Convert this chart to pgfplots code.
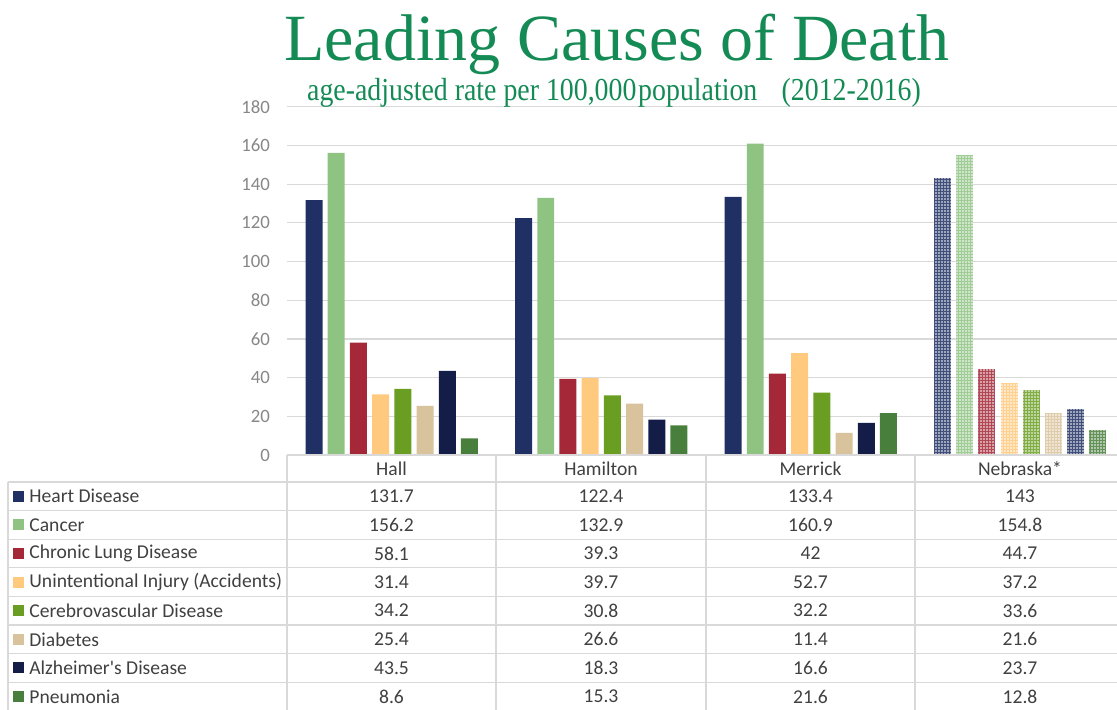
\documentclass[border=0pt]{standalone}
\usepackage{graphicx}
\usepackage{fontspec}
\setmainfont{Carlito}
\newfontfamily\titlefont{Liberation Serif}
\usepackage{pgfplots}
\pgfplotsset{compat=1.18}
\usetikzlibrary{patterns.meta}
\definecolor{heart}{HTML}{203064}
\definecolor{cancer}{HTML}{8FC382}
\definecolor{lung}{HTML}{A52838}
\definecolor{accid}{HTML}{FFC97E}
\definecolor{cereb}{HTML}{6A9E23}
\definecolor{diab}{HTML}{D9C39C}
\definecolor{alz}{HTML}{141D48}
\definecolor{pneu}{HTML}{497F3C}
\definecolor{titlec}{HTML}{148A55}
\definecolor{gridc}{HTML}{D9D9D9}
\definecolor{tickc}{HTML}{878787}
\definecolor{tabc}{HTML}{404040}
\tikzset{
  solid bar/.style={ybar, bar width=0.081, fill=#1, draw=none},
  neb bar/.style={ybar, bar width=0.081, fill=#1!85!white, draw=none,
    postaction={pattern={Dots[distance=1.5pt,radius=0.42pt]}, pattern color=white}},
}
\begin{document}
\begin{tikzpicture}
\begin{axis}[
  at={(0,0)}, anchor=south west,
  scale only axis, width=419pt, height=174.15pt,
  xmin=0.5, xmax=4.5, ymin=0, ymax=180,
  xtick=\empty, ytick={0,20,...,180},
  axis line style={draw=none}, major tick length=0pt,
  ymajorgrids, grid style={color=gridc, line width=0.6pt},
  yticklabel style={font=\fontsize{9.4}{11}\selectfont, text=tickc, xshift=-5pt},
  /pgf/number format/assume math mode=true,
  clip=false,
]
% Heart Disease
\addplot[solid bar=heart, bar shift=-0.371] coordinates {(1,131.7) (2,122.4) (3,133.4)};
\addplot[neb bar=heart, bar shift=-0.371] coordinates {(4,143)};
% Cancer
\addplot[solid bar=cancer, bar shift=-0.265] coordinates {(1,156.2) (2,132.9) (3,160.9)};
\addplot[neb bar=cancer, bar shift=-0.265] coordinates {(4,154.8)};
% Chronic Lung Disease
\addplot[solid bar=lung, bar shift=-0.159] coordinates {(1,58.1) (2,39.3) (3,42)};
\addplot[neb bar=lung, bar shift=-0.159] coordinates {(4,44.7)};
% Unintentional Injury
\addplot[solid bar=accid, bar shift=-0.053] coordinates {(1,31.4) (2,39.7) (3,52.7)};
\addplot[neb bar=accid, bar shift=-0.053] coordinates {(4,37.2)};
% Cerebrovascular Disease
\addplot[solid bar=cereb, bar shift=0.053] coordinates {(1,34.2) (2,30.8) (3,32.2)};
\addplot[neb bar=cereb, bar shift=0.053] coordinates {(4,33.6)};
% Diabetes
\addplot[solid bar=diab, bar shift=0.159] coordinates {(1,25.4) (2,26.6) (3,11.4)};
\addplot[neb bar=diab, bar shift=0.159] coordinates {(4,21.6)};
% Alzheimer's Disease
\addplot[solid bar=alz, bar shift=0.265] coordinates {(1,43.5) (2,18.3) (3,16.6)};
\addplot[neb bar=heart, bar shift=0.265] coordinates {(4,23.7)};
% Pneumonia
\addplot[solid bar=pneu, bar shift=0.371] coordinates {(1,8.6) (2,15.3) (3,21.6)};
\addplot[neb bar=pneu, bar shift=0.371] coordinates {(4,12.8)};
\end{axis}
% pixel frame of the reference: (287,455) is the axis origin
\begin{scope}[x=0.5pt, y=-0.5pt, shift={(-287,-455)}]
  \node[font=\titlefont\fontsize{33}{36}\selectfont, text=titlec, anchor=base]
    at (617,60) {Leading Causes of Death};
  \node[font=\titlefont\fontsize{16}{18}\selectfont, text=titlec, anchor=base]
    at (614,100) {\scalebox{0.87}[1]{age-adjusted rate per 100,000\hspace{1pt}population\hspace{14pt}(2012-2016)}};
  % table grid
  \begin{scope}[draw=gridc, line width=0.6pt]
    \draw (287,455) -- (1130,455);
    \foreach \y in {482,510.6,539.2,567.8,596.4,625,653.6,682.2}
      \draw (8,\y) -- (1130,\y);
    \draw (8,482) -- (8,720);
    \foreach \x in {287,496,706,915}
      \draw (\x,455) -- (\x,720);
  \end{scope}
  \begin{scope}[font=\fontsize{9.8}{11}\selectfont, text=tabc]
    \foreach \x/\name in {391.5/Hall, 601/Hamilton, 810.5/Merrick, 1020/Nebraska*}
      \node at (\x,468.5) {\name};
    \foreach \lab/\col/\a/\b/\c/\d [count=\i] in {
        Heart Disease/heart/131.7/122.4/133.4/143,
        Cancer/cancer/156.2/132.9/160.9/154.8,
        Chronic Lung Disease/lung/58.1/39.3/42/44.7,
        Unintentional Injury (Accidents)/accid/31.4/39.7/52.7/37.2,
        Cerebrovascular Disease/cereb/34.2/30.8/32.2/33.6,
        Diabetes/diab/25.4/26.6/11.4/21.6,
        Alzheimer\textquotesingle s Disease/alz/43.5/18.3/16.6/23.7,
        Pneumonia/pneu/8.6/15.3/21.6/12.8} {
      \pgfmathsetmacro{\yc}{482+28.6*(\i-0.5)}
      \fill[\col] (13,\yc-5.5) rectangle (24,\yc+5.5);
      \node[anchor=west, inner sep=0pt] at (29,\yc) {\lab};
      \node at (391.5,\yc) {\a};
      \node at (601,\yc) {\b};
      \node at (810.5,\yc) {\c};
      \node at (1020,\yc) {\d};
    }
  \end{scope}
  \pgfresetboundingbox
  \path[use as bounding box] (0,0) rectangle (1117,709);
\end{scope}
\end{tikzpicture}
\end{document}
